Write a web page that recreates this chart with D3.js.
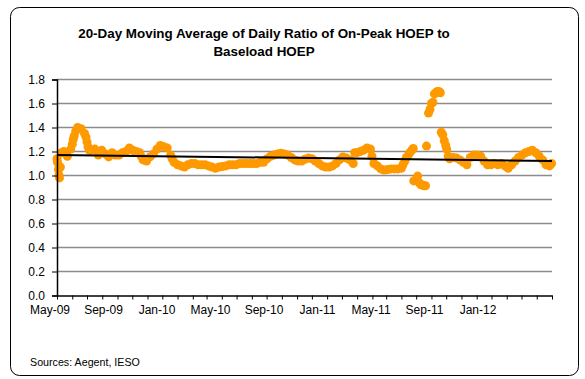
<!DOCTYPE html>
<html>
<head>
<meta charset="utf-8">
<script src="https://cdn.jsdelivr.net/npm/d3@7"></script>
<style>
  html, body { margin: 0; padding: 0; background: #fff; }
  svg { display: block; font-family: "Liberation Sans", Arial, sans-serif; }
</style>
</head>
<body>
<svg id="chart" width="585" height="379"></svg>
<script>
// 20-day moving average of the daily On-Peak / Baseload HOEP ratio
const dates = [
  "2009-05-01","2009-05-02","2009-05-04","2009-05-05","2009-05-06","2009-05-08","2009-05-10","2009-05-15",
  "2009-05-22","2009-05-29","2009-06-01","2009-06-03","2009-06-05","2009-06-08","2009-06-12","2009-06-19",
  "2009-06-26","2009-06-29","2009-07-01","2009-07-03","2009-07-06","2009-07-10","2009-07-17","2009-07-24",
  "2009-07-31","2009-08-07","2009-08-14","2009-08-21","2009-08-28","2009-09-04","2009-09-11","2009-09-18",
  "2009-09-25","2009-10-02","2009-10-09","2009-10-16","2009-10-19","2009-10-23","2009-10-30","2009-11-06",
  "2009-11-13","2009-11-20","2009-11-27","2009-12-04","2009-12-11","2009-12-18","2009-12-21","2009-12-25",
  "2010-01-01","2010-01-08","2010-01-15","2010-01-22","2010-01-29","2010-02-05","2010-02-12","2010-02-19",
  "2010-02-26","2010-03-05","2010-03-12","2010-03-19","2010-03-26","2010-04-02","2010-04-09","2010-04-16",
  "2010-04-23","2010-04-30","2010-05-07","2010-05-14","2010-05-21","2010-05-28","2010-06-04","2010-06-11",
  "2010-06-18","2010-06-25","2010-07-02","2010-07-09","2010-07-16","2010-07-23","2010-07-30","2010-08-06",
  "2010-08-13","2010-08-20","2010-08-27","2010-09-03","2010-09-10","2010-09-17","2010-09-24","2010-10-01",
  "2010-10-08","2010-10-15","2010-10-22","2010-10-29","2010-11-05","2010-11-12","2010-11-19","2010-11-26",
  "2010-12-03","2010-12-10","2010-12-17","2010-12-24","2010-12-27","2010-12-31","2011-01-07","2011-01-14",
  "2011-01-21","2011-01-28","2011-01-31","2011-02-04","2011-02-11","2011-02-18","2011-02-25","2011-03-04",
  "2011-03-11","2011-03-18","2011-03-25","2011-04-01","2011-04-04","2011-04-08","2011-04-11","2011-04-15",
  "2011-04-18","2011-04-22","2011-04-25","2011-04-26","2011-04-29","2011-05-04","2011-05-07","2011-05-10",
  "2011-05-13","2011-05-17","2011-05-20","2011-05-22","2011-05-26","2011-05-29","2011-06-01","2011-06-04",
  "2011-06-07","2011-06-10","2011-06-13","2011-06-16","2011-06-19","2011-06-21","2011-06-24","2011-06-27",
  "2011-06-30","2011-07-02","2011-07-05","2011-07-08","2011-07-15","2011-07-22","2011-07-29","2011-08-05",
  "2011-08-12","2011-08-19","2011-08-26","2011-09-02","2011-09-09","2011-09-16","2011-09-23","2011-09-30",
  "2011-10-07","2011-10-14","2011-10-21","2011-10-28","2011-11-04","2011-11-11","2011-11-18","2011-11-25",
  "2011-12-02","2011-12-09","2011-12-16","2011-12-23","2011-12-30","2012-01-06","2012-01-13","2012-01-20",
  "2012-01-27","2012-01-31"
];

const ratio = [
  1.14, 1.11, 1.05, 1.00, 0.98, 1.07, 1.19, 1.20,
  1.16, 1.22, 1.26, 1.30, 1.33, 1.37, 1.40, 1.39,
  1.35, 1.32, 1.28, 1.24, 1.21, 1.21, 1.22, 1.17,
  1.21, 1.18, 1.155, 1.19, 1.17, 1.17, 1.19, 1.20,
  1.23, 1.21, 1.20, 1.19, 1.16, 1.13, 1.12, 1.155,
  1.18, 1.22, 1.25, 1.24, 1.23, 1.17, 1.14, 1.11,
  1.09, 1.08, 1.07, 1.09, 1.10, 1.10, 1.09, 1.09,
  1.09, 1.08, 1.07, 1.06, 1.07, 1.075, 1.08, 1.09,
  1.09, 1.09, 1.10, 1.10, 1.10, 1.10, 1.10, 1.10,
  1.11, 1.11, 1.14, 1.16, 1.17, 1.18, 1.185, 1.18,
  1.17, 1.15, 1.13, 1.12, 1.12, 1.135, 1.145, 1.14,
  1.12, 1.10, 1.08, 1.07, 1.07, 1.08, 1.10, 1.13,
  1.155, 1.145, 1.13, 1.10, 1.19, 1.19, 1.20, 1.21,
  1.23, 1.22, 1.16, 1.10, 1.08, 1.055, 1.045, 1.05,
  1.055, 1.055, 1.055, 1.06, 1.09, 1.12, 1.15, 1.17,
  1.19, 1.21, 1.225, 0.955, 0.96, 0.995, 0.94, 0.925,
  0.92, 0.915, 0.915, 1.245, 1.52, 1.55, 1.60, 1.61,
  1.68, 1.69, 1.70, 1.70, 1.69, 1.36, 1.34, 1.29,
  1.25, 1.22, 1.16, 1.14, 1.15, 1.145, 1.13, 1.11,
  1.09, 1.15, 1.17, 1.17, 1.16, 1.12, 1.09, 1.09,
  1.10, 1.09, 1.10, 1.08, 1.06, 1.09, 1.12, 1.15,
  1.17, 1.19, 1.20, 1.21, 1.19, 1.16, 1.13, 1.09,
  1.08, 1.10
];

// Linear trend of the series (value at first and last date)
const trendValues = [1.171, 1.121];

const yTickValues = [0, 0.2, 0.4, 0.6, 0.8, 1.0, 1.2, 1.4, 1.6, 1.8];
const monthLabels = ["May-09","Sep-09","Jan-10","May-10","Sep-10","Jan-11","May-11","Sep-11","Jan-12"];
const axisStart = "2009-05-01";
const axisEnd = "2012-02-01";

const titleLines = ["20-Day Moving Average of Daily Ratio of On-Peak HOEP to", "Baseload HOEP"];
const sourceNote = "Sources: Aegent, IESO";

const parse = d3.utcParse("%Y-%m-%d");
const points = dates.map((d, i) => ({ date: parse(d), value: ratio[i] }));

const svg = d3.select("#chart");
const plot = { left: 57, right: 552, top: 79.5, bottom: 295.5 };

// outer frame
svg.append("rect")
  .attr("x", 10.5).attr("y", 7.5)
  .attr("width", 568).attr("height", 368)
  .attr("rx", 9).attr("ry", 9)
  .attr("fill", "#fff")
  .attr("stroke", "#000").attr("stroke-width", 1);

// title
svg.append("text")
  .attr("x", 264).attr("y", 38)
  .attr("text-anchor", "middle")
  .attr("font-weight", "bold")
  .attr("font-size", "13.4px")
  .attr("fill", "#000")
  .selectAll("tspan").data(titleLines).join("tspan")
  .attr("x", 264)
  .attr("dy", (d, i) => i === 0 ? 0 : 18)
  .text(d => d);

const x = d3.scaleUtc()
  .domain([parse(axisStart), parse(axisEnd)])
  .range([plot.left, plot.right]);

const y = d3.scaleLinear()
  .domain([0, 1.8])
  .range([plot.bottom, plot.top]);

// horizontal gridlines
svg.append("g")
  .selectAll("line")
  .data(yTickValues.filter(v => v > 0))
  .join("line")
  .attr("x1", plot.left).attr("x2", plot.right)
  .attr("y1", d => y(d)).attr("y2", d => y(d))
  .attr("stroke", "#8c8c8c").attr("stroke-width", 1.6);

// data points
svg.append("g")
  .selectAll("circle")
  .data(points)
  .join("circle")
  .attr("cx", d => x(d.date))
  .attr("cy", d => y(d.value))
  .attr("r", 4.5)
  .attr("fill", "#ff9900");

// trend line
svg.append("line")
  .attr("x1", x(points[0].date)).attr("y1", y(trendValues[0]))
  .attr("x2", x(parse(axisEnd))).attr("y2", y(trendValues[1]))
  .attr("stroke", "#000").attr("stroke-width", 2);

// y axis
const yAxis = svg.append("g")
  .attr("transform", `translate(${plot.left},0)`)
  .call(d3.axisLeft(y).tickValues(yTickValues).tickFormat(d3.format(".1f")).tickSize(5).tickPadding(7));
yAxis.select(".domain").attr("stroke", "#000").attr("stroke-width", 1.5);
yAxis.selectAll(".tick line").attr("stroke", "#000").attr("stroke-width", 1);
yAxis.selectAll(".tick text")
  .attr("font-size", "12px").attr("fill", "#000")
  .attr("font-family", "'Liberation Sans', Arial, sans-serif");

// x axis: monthly tick marks
const xAxis = svg.append("g")
  .attr("transform", `translate(0,${plot.bottom})`)
  .call(d3.axisBottom(x).ticks(d3.utcMonth.every(1)).tickFormat("").tickSize(4).tickSizeOuter(0));
xAxis.select(".domain").attr("stroke", "#000").attr("stroke-width", 1.5);
xAxis.selectAll(".tick line").attr("stroke", "#000").attr("stroke-width", 1);

// x axis labels, evenly spaced along the axis
const labelScale = d3.scalePoint().domain(monthLabels).range([50, 478]);
svg.append("g")
  .selectAll("text")
  .data(monthLabels)
  .join("text")
  .attr("x", d => labelScale(d))
  .attr("y", 314)
  .attr("text-anchor", "middle")
  .attr("font-size", "12px")
  .attr("fill", "#000")
  .text(d => d);

// source note
svg.append("text")
  .attr("x", 30).attr("y", 366)
  .attr("font-size", "10.7px")
  .attr("fill", "#000")
  .text(sourceNote);
</script>
</body>
</html>
